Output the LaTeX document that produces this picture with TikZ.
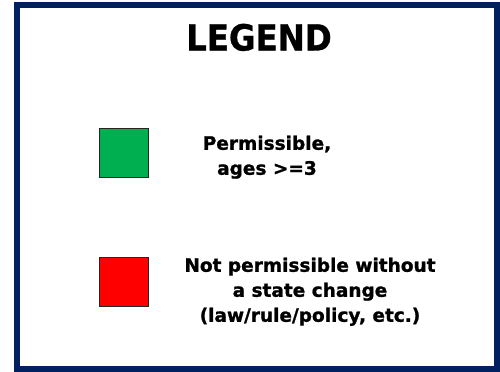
\documentclass[tikz,border=0pt]{standalone}
\usepackage{fontspec}
\setmainfont{DejaVu Sans}
\newfontfamily\titlefont[FakeStretch=0.9,BoldFeatures={FakeBold=0.8}]{DejaVu Sans}
\newfontfamily\bodyfont[BoldFeatures={FakeBold=1.2}]{DejaVu Sans}
\definecolor{navy}{RGB}{0,32,96}
\definecolor{okgreen}{RGB}{0,176,80}
\definecolor{nored}{RGB}{255,0,0}
\begin{document}
\begin{tikzpicture}[x=1bp,y=-1bp,
  swatch/.style={draw=black!85,line width=1bp,minimum size=49bp,inner sep=0pt},
  label/.style={inner sep=0pt,align=center,font=\bodyfont\bfseries\fontsize{18.5bp}{25bp}\selectfont}]
\useasboundingbox (0,0) rectangle (500,371);
\fill[white] (0,0) rectangle (500,371);
\draw[navy,line width=6bp] (17,4.5) rectangle (496.5,368.5);
\node[inner sep=0pt,anchor=base,font=\titlefont\bfseries\fontsize{36bp}{40bp}\selectfont] (title) at (259,50.5) {LEGEND};
\node[swatch,fill=okgreen] (green) at (123.5,153) {};
\node[swatch,fill=nored] (red) at (123.5,282) {};
\node[label,anchor=north] (gtext) at (267,135.5) {Permissible,\\ages >=3};
\node[label,anchor=north] (rtext) at (310,257.5) {Not permissible without\\a state change\\(law/rule/policy, etc.)};
\end{tikzpicture}
\end{document}
